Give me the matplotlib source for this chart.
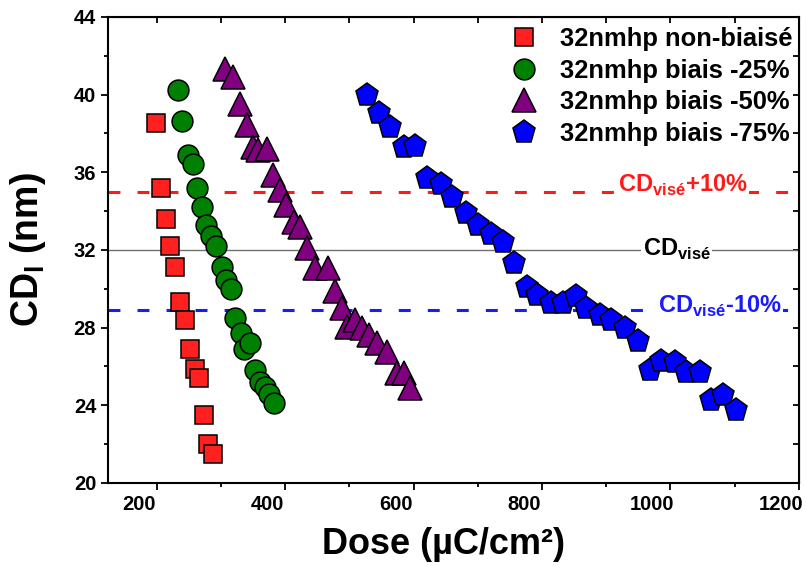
import numpy as np
import matplotlib
matplotlib.use('Agg')
import matplotlib.pyplot as plt
import matplotlib.transforms as mtransforms
from matplotlib.ticker import MultipleLocator

plt.rcParams['font.family'] = ['Liberation Sans', 'DejaVu Sans']
plt.rcParams['font.weight'] = 'bold'
plt.rcParams['axes.labelweight'] = 'bold'

# dose (uC/cm2) and CD (nm)
dose_0 = [198, 206, 214, 220, 228, 236, 244, 252, 259, 265, 273, 280, 288]
cd_0 = [38.55, 35.2, 33.6, 32.2, 31.1, 29.3, 28.4, 26.9, 25.85, 25.4, 23.5, 22.0, 21.5]

dose_25 = [233, 240, 248, 256, 263, 271, 277, 285, 293, 301, 308, 315,
           322, 331, 336, 345, 353, 361, 369, 375, 383]
cd_25 = [40.25, 38.65, 36.9, 36.4, 35.2, 34.2, 33.3, 32.7, 32.2, 31.1, 30.45, 30.0,
         28.5, 27.7, 26.9, 27.2, 25.8, 25.2, 24.95, 24.6, 24.1]

dose_50 = [306, 318, 329, 340, 350, 358, 371, 381, 392, 402, 414, 423,
           434, 447, 466, 478, 489, 496, 509, 520, 530, 543, 559, 574, 585, 595]
cd_50 = [41.3, 40.9, 39.5, 38.45, 37.3, 37.15, 37.2, 35.85, 35.1, 34.3, 33.45, 33.2,
         32.1, 31.05, 31.05, 29.9, 29.0, 28.05, 28.4, 27.95, 27.6, 27.2, 26.75, 25.65, 25.65, 24.9]

dose_75 = [528, 546, 564, 585, 603, 621, 642, 660, 681, 700, 720, 739, 757,
           777, 793, 814, 832, 853, 869, 890, 908, 929, 949, 968, 986, 1007,
           1025, 1046, 1064, 1082, 1103]
cd_75 = [40.0, 39.05, 38.35, 37.3, 37.35, 35.7, 35.4, 34.7, 33.9, 33.3, 32.8, 32.4, 31.35,
         30.1, 29.7, 29.25, 29.25, 29.6, 29.0, 28.65, 28.4, 27.95, 27.3, 25.8, 26.3, 26.2,
         25.7, 25.7, 24.25, 24.5, 23.75]

labels = ['32nmhp non-biaisé', '32nmhp biais -25%', '32nmhp biais -50%', '32nmhp biais -75%']
cd_target = 32.0
cd_plus = 35.0
cd_minus = 28.9

fig = plt.figure(figsize=(8.06, 5.66), dpi=100)
ax = fig.add_axes([0.134, 0.147, 0.857, 0.823])

# reference lines
ax.axhline(cd_plus, color='#ff1a1a', lw=2.2, dashes=(3.9, 5.6), zorder=1)
ax.axhline(cd_target, color='#707070', lw=1.0, zorder=1)
ax.axhline(cd_minus, color='#1a1aff', lw=2.2, dashes=(3.9, 5.6), zorder=1)

mk = dict(linestyle='none', markeredgecolor='black', markeredgewidth=1.1)
ax.plot(dose_0, cd_0, 's', color='#ff2020', markersize=13.5, label=labels[0], **mk)
ax.plot(dose_25, cd_25, 'o', color='#008000', markersize=15, label=labels[1], **mk)
ax.plot(dose_50, cd_50, '^', color='#800080', markersize=17, label=labels[2], **mk)
ax.plot(dose_75, cd_75, 'p', color='#0000ff', markersize=17, label=labels[3], **mk)

box = dict(facecolor='white', edgecolor='none', pad=1.0)
ax.text(919, 35.0, r'CD$_{\mathregular{visé}}$+10%', color='#ff1a1a', fontsize=17,
        fontweight='bold', va='baseline', ha='left', bbox=box, zorder=2)
ax.text(957, 31.7, r'CD$_{\mathregular{visé}}$', color='black', fontsize=17,
        fontweight='bold', va='baseline', ha='left', bbox=box, zorder=2)
ax.text(980, 28.75, r'CD$_{\mathregular{visé}}$-10%', color='#1a1aff', fontsize=17,
        fontweight='bold', va='baseline', ha='left', bbox=box, zorder=2)

ax.set_xlim(124, 1200)
ax.set_ylim(20, 44)
ax.xaxis.set_major_locator(MultipleLocator(200))
ax.xaxis.set_minor_locator(MultipleLocator(100))
ax.yaxis.set_major_locator(MultipleLocator(4))
ax.yaxis.set_minor_locator(MultipleLocator(2))
for s in ax.spines.values():
    s.set_linewidth(1.5)
ax.tick_params(which='both', direction='out', width=1.3, labelsize=14.5)
ax.tick_params(which='major', length=5)
ax.tick_params(which='minor', length=3)

# top / right: inward ticks, no labels
top = ax.secondary_xaxis('top')
top.xaxis.set_major_locator(MultipleLocator(200))
top.xaxis.set_minor_locator(MultipleLocator(100))
top.tick_params(which='both', direction='in', width=1.3, length=4, labeltop=False)
right = ax.secondary_yaxis('right')
right.yaxis.set_major_locator(MultipleLocator(4))
right.yaxis.set_minor_locator(MultipleLocator(2))
right.tick_params(which='both', direction='in', width=1.3, length=4, labelright=False)

# x tick labels sit a bit left of their ticks in the original
shift = mtransforms.ScaledTranslation(-18 / 100, 0, fig.dpi_scale_trans)
for lab in ax.xaxis.get_majorticklabels():
    lab.set_transform(lab.get_transform() + shift)
for lab in ax.get_xticklabels() + ax.get_yticklabels():
    lab.set_fontweight('bold')

ax.set_xlabel('Dose (µC/cm²)', fontsize=26, fontweight='bold')
ax.xaxis.set_label_coords(0.485, -0.095)
ax.xaxis.label.set_va('top')
ax.set_ylabel(r'CD$_{\mathregular{l}}$ (nm)', fontsize=27, fontweight='bold')
ax.yaxis.set_label_coords(-0.087, 0.5)

ax.legend(loc='upper right', bbox_to_anchor=(1.0, 0.992), frameon=False,
          prop={'weight': 'bold', 'size': 18.4}, handletextpad=0.9, labelspacing=0.3,
          borderaxespad=0.1, borderpad=0.15, handlelength=1.0, markerscale=1.0)

fig.savefig('out.png', dpi=100)
